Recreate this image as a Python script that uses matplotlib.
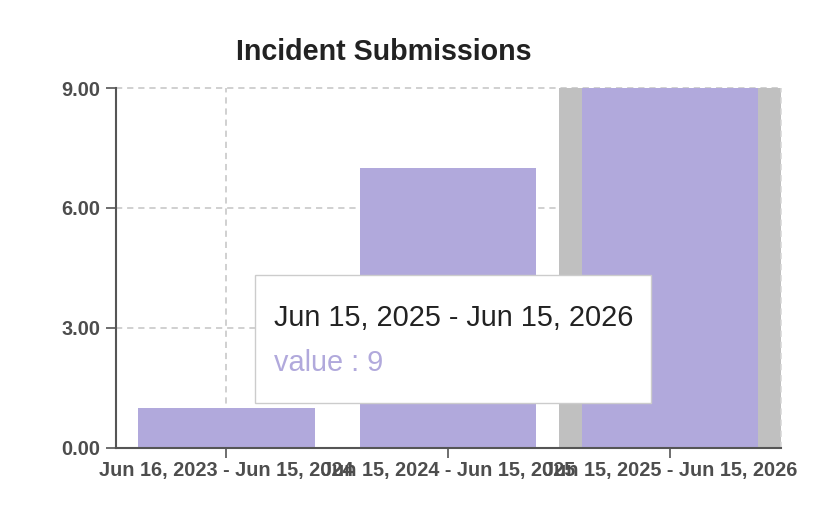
import matplotlib
matplotlib.use("Agg")
import matplotlib.pyplot as plt
from matplotlib.patches import Rectangle

plt.rcParams['font.family'] = ['Liberation Sans', 'DejaVu Sans']
plt.rcParams['lines.scale_dashes'] = False

# data
periods = ["Jun 16, 2023 - Jun 15, 2024",
           "Jun 15, 2024 - Jun 15, 2025",
           "Jun 15, 2025 - Jun 15, 2026"]
submissions = [1, 7, 9]
y_ticks = [0, 3, 6, 9]
hovered = 2

bar_color = '#b1a9dc'
axis_color = '#555555'
grid_color = '#c4c4c4'
W, H = 834, 514

fig = plt.figure(figsize=(W / 100, H / 100), dpi=100)
ax = fig.add_axes([115.5 / W, 1 - 447.5 / H, (781 - 115.5) / W, (447.5 - 88) / H])

x = list(range(len(periods)))

# hover band behind the active bar
ax.bar([x[hovered]], [max(y_ticks)], width=1.0, color='#c0c0c0', zorder=1)
ax.bar(x, submissions, width=0.795, color=bar_color, zorder=2)

ax.set_xlim(-0.5, len(periods) - 0.5)
ax.set_ylim(0, max(y_ticks))

# dashed grid
for v in y_ticks[1:]:
    ax.axhline(v, color=grid_color, lw=1.1, ls=(0, (4.5, 3.5)), zorder=0.5, clip_on=False)
ax.axvline(x[0], color=grid_color, lw=1.1, ls=(0, (4.5, 3.5)), zorder=0.5)
ax.axvline(len(periods) - 0.5, color='#d6d6d6', lw=1.1, ls=(0, (4.5, 3.5)), zorder=3, clip_on=False)

ax.set_yticks(y_ticks)
ax.set_yticklabels([f"{v:.2f}" for v in y_ticks])
ax.set_xticks(x)
ax.set_xticklabels(periods)

for s in ['top', 'right']:
    ax.spines[s].set_visible(False)
for s in ['left', 'bottom']:
    ax.spines[s].set_color(axis_color)
    ax.spines[s].set_linewidth(1.5)
    ax.spines[s].set_zorder(4)

ax.tick_params(axis='both', colors=axis_color, length=7.2, width=1.2, labelsize=14.3)
ax.tick_params(axis='y', pad=3.6)
ax.tick_params(axis='x', pad=2.5)
for lab in ax.get_xticklabels() + ax.get_yticklabels():
    lab.set_fontweight('bold')
    lab.set_color('#4d4d4d')

fig.text(384 / W, 1 - 60 / H, "Incident Submissions", ha='center', va='baseline',
         fontsize=20.6, fontweight='bold', color='#222222')

# tooltip for hovered bar
fig.patches.append(Rectangle((255 / W, 1 - 403 / H), (651 - 255) / W, (403 - 275) / H,
                             transform=fig.transFigure, facecolor='white',
                             edgecolor='#cccccc', lw=1.0, zorder=5))
fig.text(273.5 / W, 1 - 326 / H, periods[hovered], ha='left', va='baseline',
         fontsize=20.8, color='#222222', zorder=6)
fig.text(273.5 / W, 1 - 371 / H, f"value : {submissions[hovered]}", ha='left',
         va='baseline', fontsize=20.8, color=bar_color, zorder=6)

fig.savefig("out.png", dpi=100)
